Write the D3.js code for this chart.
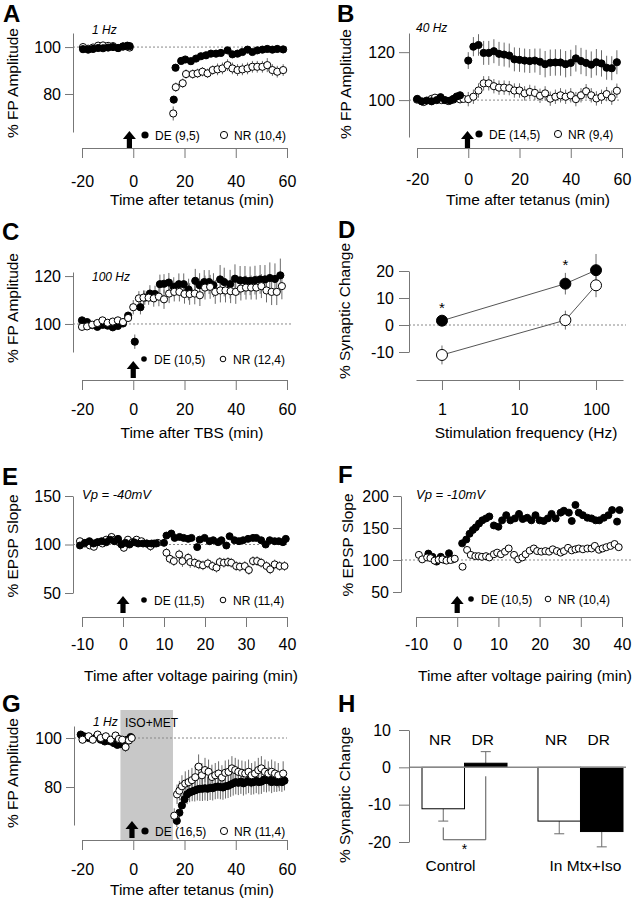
<!DOCTYPE html>
<html><head><meta charset="utf-8">
<script src="https://cdn.jsdelivr.net/npm/d3@7"></script>
<style>body{margin:0;background:#fff} svg{display:block}</style>
</head><body><svg id="c" width="632" height="900"></svg>
<script>
// ---------------- DATA ----------------
// Panel A (1 Hz): [time, value, sem]
const aDE = [[-19.6,99.1,.5],[-17.6,98.9,.5],[-15.7,99.2,.5],[-13.7,99.6,.5],[-11.8,99.5,.5],[-9.8,99.8,.5],[-7.9,100,.5],[-5.9,99.6,.5],[-4,100.3,.5],[-2.3,100.6,.5],[-1.4,100.4,.5],
 [15.8,77.6,1.5],[16.5,91.2,1.2],[18.7,94.1,1.2],[20.3,94.7,1],[22.5,94,1],[24.5,95.1,1],[26.4,96.1,1],[28.4,96.5,1],[30.3,97.2,1],[32.3,97.2,1],[34.2,97.5,1.2],[36.8,98.6,1.2],[38.7,96.9,1.2],[40.7,97.2,1.2],[42.6,97.9,1.2],[44.6,98.9,1.2],[46.5,97.9,1.2],[48.4,98.6,1.2],[50.4,98.9,1.2],[52.3,99.2,1.2],[54.3,98.9,1.2],[56.2,99.2,1.5],[58.5,99,1.5]];
const aNR = [[-19.6,100,.6],[-17.6,99.3,.6],[-15.7,99.8,.6],[-13.7,100.6,.6],[-11.8,100.7,.6],[-9.8,100.5,.6],[-7.9,100.4,.6],[-5.9,99.6,.6],[-4,100.2,.6],[-2.3,100.2,.6],[-1.4,99.8,.6],
 [15.6,71.7,3],[16.6,82.9,2],[19.3,84.6,2],[20.6,88.5,2],[23.2,88.5,2],[25.1,88.8,2],[27,89.5,2],[29,88.8,2],[31,90.2,2],[32.9,90.5,2.5],[34.8,90.9,2.5],[36.8,92.3,2.5],[38.7,90.9,2.5],[40.7,90.2,2.5],[42.6,90.5,2.5],[44.6,90.9,2.5],[46.5,91.6,2.5],[48.4,91.6,2.5],[50.4,91.6,2.5],[52.3,92.3,3],[54.3,90.2,2.5],[56.2,89.5,2.5],[58.5,90.2,2.5]];
// Panel B (40 Hz)
const bDE = [[-19.9,100.5,1],[-18.2,99.5,1],[-16.2,99.8,1],[-14.3,99.5,1],[-12.3,100,1],[-10.8,101.2,1],[-9.1,100,1],[-7.1,99.8,1],[-5.8,100.5,1],[-4.5,101.5,1],[-3.2,102,1],
 [0,116.5,3.5],[2,122.3,4],[4,123,4.5],[6,119.7,5],[8,119.7,5],[10,120.4,5],[12,119.3,5],[14,119,5],[16,118.6,5],[18,117,5],[20,116.8,5],[22,116.5,5],[24,116.3,5],[26,116.5,5],[28,116,5.5],[30,115,5.5],[32,115.6,5.5],[34,115.7,5.5],[36,115.7,5.5],[38,115,5.5],[40,115.5,5.5],[42,117.4,5.5],[44,116.3,5.5],[46,115.5,5.5],[48,114.8,5.5],[50,115.8,5.5],[52,115.3,5.5],[54,113.5,5],[56,113.3,5],[58,115.8,5]];
const bNR = [[-20,100.2,1],[-17.4,99.2,1],[-14.3,100.5,1],[-13,101,1],[-10.4,100,1],[-7.8,99.6,1],[-5.8,100.2,1],[-3.2,100.3,1],[-1.9,100.5,1],
 [0,100.4,3],[2,101.4,3],[4,104,3],[6,107,3],[8,107,3],[10,105.8,3],[12,105.2,3],[14,105.2,3],[16,105,3],[18,104,3],[20,104,3],[22,102.8,3],[24,103.4,3],[26,103,3],[28,101.8,3],[30,102.8,3],[32,100.6,3],[34,101.4,3],[36,102,3],[38,101.4,3],[40,102,3],[42,100.4,3],[44,102,3],[46,103.7,3],[48,102,3],[50,100.7,3],[52,101.4,3],[54,102.5,3],[56,101,3],[58,103.9,3]];
// Panel C (100 Hz, TBS)
const cDE = [[-20,101.5,1],[-18,100.8,1],[-16,99.5,1],[-14,98.8,1],[-12,99.6,1],[-10,99.3,1],[-8,98.6,1],[-6,99.2,1],[-4,100.2,1.2],[-2,103.5,1.5],[0.6,92.6,3],[2.8,107,3],[4.5,111,3],[6.5,112.7,3.5],[8.5,112.5,3.5],[10.4,116.6,4],[12,116.8,4],[13.9,117.3,4],[15.8,115.5,4],[17.8,116.6,4.5],[19.7,116.6,4.5],[21.6,114.4,4.5],[24.2,118,5],[25.9,116.2,5],[27.7,117.5,5],[29.6,117.5,5],[31.3,116.2,5],[33.9,118.6,6],[35.5,117.5,6],[37.8,116.6,6],[39.7,118.9,6],[41.7,118.2,6],[43.6,118.2,6],[45.6,118,6],[47.5,118.3,6],[49.5,118.6,6],[51.4,118.6,6],[53.3,119.2,6.5],[55.3,118.8,6.5],[57.4,120.3,7]];
const cNR = [[-20,98.8,1.5],[-18,99,1.5],[-16,99.7,1.5],[-14,100.4,1.5],[-12,101.5,1.5],[-10,100.5,1.5],[-8,101,1.5],[-6,101.5,1.5],[-4,100.8,1.5],[-2,102.5,1.5],[0,107,3],[2.2,110.7,3],[4,111,3],[6,111,3],[8,110.7,3.5],[10,111.4,4],[12,110.3,4],[14,112.7,4],[16,113.4,4],[18,113.4,4],[20,112.5,4],[22,112.5,4.5],[24,112.7,4.5],[26,112,4.5],[28,115.2,5],[30,115.5,5],[32,113.4,5],[34,114,5],[36,114,5],[38,113.7,5],[40,113.4,5],[42,114.8,5],[44,115.2,5],[46,115.2,5],[48,115.2,5],[50,115.8,5],[52,114,5],[54,113.4,5.5],[56,113.4,5.5],[58,115.8,5.5]];
// Panel D (summary vs frequency)
const dFreq = [1, 40, 100];
const dDE = [1.6, 15.3, 20.3];
const dDEerr = [2, 4, 6];
const dNR = [-11.1, 1.8, 14.7];
const dNRerr = [3.5, 3.5, 4.4];
const dStar = [true, true, false];
// Panel E (Vp = -40 mV)
const eDE = [[-10.5,99,2],[-9.3,101.7,2],[-8.2,103.4,2],[-7.2,101,2],[-6.3,102.3,2],[-5.2,103.4,2],[-4.1,102.3,2],[-3.2,105,2],[-2.1,103.4,2],[-1.2,105.8,2],[-0.4,100,2],[0.6,101.7,2],[1.6,100,2],[2.7,102.3,2],[3.7,101,2],[4.9,101,2],[5.9,101,2],[7,101,2],[8.1,101,2],
 [10,101.7,3],[10.6,109.2,3],[11.8,111.3,3],[12.6,106.8,3],[13.8,107.8,3],[14.8,106.8,3],[15.9,105.8,3],[16.7,106.8,3],[18.1,97.3,3],[18.7,105,3],[19.9,106.8,3],[21.1,103.4,3],[22,104.4,3],[23.2,102.4,3],[24,104.4,3],[25.2,99,3],[26,108.5,3],[27.2,104.4,3],[28.3,103.4,3],[29.3,104.4,3],[30.5,105.8,3],[31.7,106.8,3],[32.5,106.8,3],[33.7,104.4,3],[34.8,100,3],[35.8,104.4,3],[37,103.4,3],[38,103.4,3],[39,102.4,3],[39.7,105.8,3]];
const eNR = [[-10.5,103.4,3],[-9.3,101,3],[-8.1,99,3],[-7.1,97.6,3],[-6.1,102.4,3],[-5,101,3],[-4.1,105,3],[-2.8,107.8,4],[-2,105,3],[-1,102.4,3],[0.2,96.6,4],[1.2,105,3],[2.3,102.4,4],[3.3,105,3],[4.5,103.4,3],[5.7,101,4],[6.7,98.3,5],[7.6,101,4],[8.5,101.7,3],
 [10.6,91.5,5],[11.4,85.3,5],[12.4,82.9,5],[13.7,89.8,5],[14.5,82.9,6],[15.9,86.3,5],[16.4,81.9,6],[17.5,81.2,5],[18.5,79.5,5],[19.5,78.5,5],[20.7,80.5,5],[21.8,77.8,5],[22.8,76.1,5],[23.6,81.9,5],[24.6,81.2,5],[25.6,81.9,5],[26.4,81.2,5],[27.6,77.8,5],[28.5,77.1,5],[29.7,77.8,5],[30.7,73.7,5],[31.7,82.9,5],[32.7,82.9,5],[33.7,81.2,5],[35,77.8,5],[35.9,74.4,5],[37,79.5,5],[38.2,77.8,5],[39.4,77.8,5]];
// Panel F (Vp = -10 mV)
const fDE = [[-7,110,3],[-6,105,3],[-5,97.5,3],[-4,105,3],[-3,100,3],[-2,110.5,3],[-1,101,3],
 [1.2,126,4],[2.2,132,4],[3,141,4],[3.8,147,4],[4.5,151,4],[5.3,157,4],[6.1,162,4],[7,165,4],[7.8,168,4],[8.9,154,4],[10,152,4],[10.9,162,4],[11.9,170,4],[12.9,162,4],[14,165,4],[15,172,4],[15.9,164,4],[17,166,4],[18,162,4],[19,170,4],[20,162,4],[21,161,4],[22,165,4],[22.9,172,4],[23.9,165,4],[25.1,174,4],[25.9,177,4],[27.1,174,4],[27.8,161,4],[28.7,186,5],[29.5,174,4],[30.5,170,4],[31.6,166,4],[32.6,165,4],[33.6,162,4],[34.5,162,4],[35.6,166,4],[36.7,170,4],[37.6,178,5],[38.8,160,4],[39.4,178,5]];
const fNR = [[-9.3,108,3],[-8.5,101,3],[-7.3,104,3],[-6.5,103,3],[-5.5,99,3],[-4.5,100.5,3],[-3.6,101,3],[-2.6,99,3],[-1.6,100,3],[-0.6,102,3],
 [1.3,89.5,4],[2.4,115.7,4],[3.3,108,4],[4.4,106,4],[5.2,106,4],[6,105,4],[7,106,4],[7.8,104,4],[8.9,109,4],[9.7,111.5,4],[10.6,109,4],[11.6,113,4],[12.5,118,4],[13.8,108,4],[14.8,101,4],[15.8,104,4],[16.6,109,4],[17.6,114.6,4],[18.6,118,4],[19.4,114,4],[20.4,113,4],[21.4,114,4],[22.3,113,4],[23.2,116.7,4],[24.2,114,4],[25.1,111.5,4],[25.9,114,4],[26.9,119,4],[27.8,115,4],[28.7,116.7,4],[29.5,118,4],[30.5,116.7,4],[31.6,118,4],[32.6,118,4],[33.4,122,4],[34.4,116,4],[35.3,118,4],[36.2,120,4],[37.2,122,4],[38.2,125,4],[39.2,120,4]];
// Panel G (1 Hz in ISO+MET)
const gDE = [[-20.5,101.4,1],[-19.2,100.7,1],[-17.4,100,1],[-16.1,99.6,1],[-14.4,100.4,1],[-12.7,99.3,1],[-11.1,98.6,1],[-10.1,99,1],[-8.8,98.6,1],[-7.5,97.9,1],[-6.2,97.2,1],[-4.9,97.5,1],[-3.6,98.6,1],[-2.3,99.3,1],[-1,100.4,1],
 [17,66.2,2.5],[18,69.5,3],[19,72.5,3],[20,75,3.5],[21,77,4],[22,77.8,4],[23,78.2,4],[24,78.6,4.5],[25,79,4.5],[26,79.3,5],[27,79.3,5],[28,79.5,5],[29,79.3,5],[30,79.7,5],[31,79.5,5],[32,80,5],[33,80.2,5],[34,80,5],[35,79.8,5],[36,80.3,5],[37,80.5,5],[38,81,5],[39,81.5,5],[40,82,5],[41,81.7,5],[42,82.2,5],[43,81.5,5],[44,82,5],[45,82.5,5],[46,81.8,5],[47,82,5],[48,82.5,5],[49,82,5],[50,82.2,5],[51,83,5],[52,82.8,5],[53,83.2,5],[54,82,4.5],[55,82.5,4.5],[56,82,4],[57,82.3,4],[58,82,4],[59,82.6,4]];
const gNR = [[-19.8,99.3,1.5],[-17.4,100.7,1.5],[-15.8,99.3,1.5],[-13.9,101.4,1.5],[-12.7,100,1.5],[-10.7,100.7,1.5],[-8.8,99.3,1.5],[-6.9,101,1.5],[-5.6,99.6,1.5],[-4.3,99.3,1.5],[-3,96.3,2],[-1.7,99,1.5],[-0.6,100,1.5],
 [16,68.3,3],[17.1,77,4],[18,78.5,4],[19,80.3,4.5],[20.3,81.4,5],[21.6,82,5],[22.9,82.8,5],[24.2,84,5],[25.5,88.3,5],[26.8,84.8,5],[28,86.9,5],[29.4,86.2,5],[30.7,84.1,5],[32,84.8,5],[33.3,85.5,5],[34.6,83.9,5],[35.9,85.8,5],[37.2,86.2,5],[38.5,87.6,5],[39.8,86.9,5],[41,86.2,5],[42.4,85.8,5],[43.7,85.5,5],[45,86.2,5],[46.2,84.8,5],[47.5,85.5,5],[48.8,86.9,5],[50,87.6,5],[51.4,86.2,5],[52.7,85.5,5],[54,86.2,5],[55.3,85.5,5],[56.6,84.8,5],[58.5,85.5,5]];
const gDrug = [-5, 15.5];
// Panel H (bars)
const hGroups = ["Control", "In Mtx+Iso"];
const hConds = ["NR", "DR"];
const hNR = [-11.1, -14.4];
const hNRerr = [3.3, 3.4];
const hDR = [1.1, -17.2];
const hDRerr = [3.1, 4.1];
// Arrow (stimulus) times and legends
const arrowT = {A:-1.5, B:-0.3, C:0, E:0, F:0, G:-0.5};
const legendLabels = {A:["DE (9,5)","NR (10,4)"], B:["DE (14,5)","NR (9,4)"], C:["DE (10,5)","NR (12,4)"], E:["DE (11,5)","NR (11,4)"], F:["DE (10,5)","NR (10,4)"], G:["DE (16,5)","NR (11,4)"]};
const ticksT80 = [-20, 0, 20, 40, 60];
const ticksT40 = [-10, 0, 10, 20, 30, 40];

// ---------------- DRAWING ----------------
const FONT = '"Liberation Sans", Arial, Helvetica, sans-serif';
const svg = d3.select("#c").attr("font-family", FONT);
const AX = "#777", ERR = "#6a6a6a";
const fmt = d => String(d);

function styleAxis(g, fs){
  g.attr("font-family", FONT).attr("font-size", fs);
  g.selectAll(".domain").attr("stroke", AX);
  g.selectAll(".tick line").attr("stroke", AX);
  g.selectAll(".tick text").attr("fill", "#000");
}
function yAxis(scale, x, ticks, tsize, pad){
  const g = svg.append("g").attr("transform", `translate(${x},0)`)
    .call(d3.axisLeft(scale).tickValues(ticks).tickSize(tsize).tickSizeOuter(0).tickPadding(pad).tickFormat(fmt));
  styleAxis(g, 16);
}
function xAxis(scale, y, ticks, pad){
  const g = svg.append("g").attr("transform", `translate(0,${y})`)
    .call(d3.axisBottom(scale).tickValues(ticks).tickSize(10).tickSizeOuter(0).tickPadding(pad).tickFormat(fmt));
  styleAxis(g, 16);
}
function letter(t, x, y){ svg.append("text").attr("x", x).attr("y", y).text(t).attr("font-size", 24).attr("font-weight", "bold"); }
function ylabel(t, x, y){ svg.append("text").attr("transform", `translate(${x},${y}) rotate(-90)`).attr("text-anchor", "middle").attr("dy", "0.35em").attr("font-size", 15.5).text(t); }
function xlabel(t, x, y){ svg.append("text").attr("x", x).attr("y", y).attr("text-anchor", "middle").attr("font-size", 15.5).text(t); }
function note(t, x, y, italic, fs){ svg.append("text").attr("x", x).attr("y", y).attr("font-size", fs || 12).attr("font-style", italic ? "italic" : "normal").text(t); }
function refLine(x1, x2, y){ svg.append("line").attr("x1", x1).attr("x2", x2).attr("y1", y).attr("y2", y).attr("stroke", "#888").attr("stroke-width", 1).attr("stroke-dasharray", "2,2"); }
function arrow(cx, by){
  svg.append("path").attr("d", `M${cx-2.6},${by} L${cx-2.6},${by-9} L${cx-6.5},${by-9} L${cx},${by-17} L${cx+6.5},${by-9} L${cx+2.6},${by-9} L${cx+2.6},${by} Z`).attr("fill", "#000");
}
function legend(labels, x1, x2, y, r){
  svg.append("circle").attr("cx", x1).attr("cy", y).attr("r", r).attr("fill", "#000");
  svg.append("text").attr("x", x1 + 10).attr("y", y + 4.5).attr("font-size", 12).text(labels[0]);
  svg.append("circle").attr("cx", x2).attr("cy", y).attr("r", r).attr("fill", "#fff").attr("stroke", "#000");
  svg.append("text").attr("x", x2 + 10).attr("y", y + 4.5).attr("font-size", 12).text(labels[1]);
}
function errs(x, y, data){
  svg.append("g").selectAll("line").data(data).join("line")
    .attr("x1", d => x(d[0])).attr("x2", d => x(d[0]))
    .attr("y1", d => y(d[1] - d[2])).attr("y2", d => y(d[1] + d[2]))
    .attr("stroke", ERR).attr("stroke-width", 1);
}
function dots(x, y, data, filled, r){
  svg.append("g").selectAll("circle").data(data).join("circle")
    .attr("cx", d => x(d[0])).attr("cy", d => y(d[1])).attr("r", r)
    .attr("fill", filled ? "#000" : "#fff").attr("stroke", "#000").attr("stroke-width", 1);
}
function ts(x, y, de, nr, r, deOnTop){
  errs(x, y, nr); errs(x, y, de);
  if (deOnTop) { dots(x, y, nr, false, r); dots(x, y, de, true, r); }
  else { dots(x, y, de, true, r); dots(x, y, nr, false, r); }
}

// ---- Panel A ----
{
  const x = d3.scaleLinear().domain([-20, 60]).range([82, 287]);
  const y = d3.scaleLinear().domain([63.8, 106]).range([132, 33]);
  refLine(73, 287, y(100));
  ts(x, y, aDE, aNR, 3.6, true);
  yAxis(y, 73, [80, 100], 8, 4);
  xAxis(x, 148, ticksT80, 18);
  arrow(x(arrowT.A), 148);
  legend(legendLabels.A, 145, 224, 135, 3.6);
  letter("A", 3, 22);
  note("1 Hz", 92, 34, true);
  ylabel("% FP Amplitude", 13, 83);
  xlabel("Time after tetanus (min)", 192, 205);
}
// ---- Panel B ----
{
  const x = d3.scaleLinear().domain([-20, 60]).range([417, 622]);
  const y = d3.scaleLinear().domain([84.6, 128]).range([137, 33]);
  refLine(409, 620, y(100));
  ts(x, y, bDE, bNR, 3.6, true);
  yAxis(y, 409, [100, 120], 10, 4);
  xAxis(x, 148, ticksT80, 16);
  arrow(x(arrowT.B), 148);
  legend(legendLabels.B, 479, 558, 134, 3.6);
  letter("B", 337, 22);
  note("40 Hz", 416, 32, true);
  ylabel("% FP Amplitude", 346, 84);
  xlabel("Time after tetanus (min)", 528, 205);
}
// ---- Panel C ----
{
  const x = d3.scaleLinear().domain([-20, 60]).range([82, 287]);
  const y = d3.scaleLinear().domain([88.3, 121.7]).range([352, 272]);
  refLine(73, 292, y(100));
  ts(x, y, cDE, cNR, 3.6, false);
  yAxis(y, 73, [100, 120], 8, 4);
  xAxis(x, 380, ticksT80, 14);
  arrow(x(arrowT.C), 378);
  legend(legendLabels.C, 144, 223, 359, 2.8);
  letter("C", 2, 240);
  note("100 Hz", 92, 281, true);
  ylabel("% FP Amplitude", 13, 308);
  xlabel("Time after TBS (min)", 192, 438);
}
// ---- Panel D ----
{
  const x = d3.scaleLog().domain([0.46, 224]).range([416, 623]);
  const y = d3.scaleLinear().domain([-10, 20]).range([352, 271]);
  refLine(409, 626, y(0));
  const de = dFreq.map((f, i) => [f, dDE[i], dDEerr[i], dStar[i]]);
  const nr = dFreq.map((f, i) => [f, dNR[i], dNRerr[i]]);
  const line = d3.line().x(d => x(d[0])).y(d => y(d[1]));
  svg.append("path").attr("d", line(de)).attr("fill", "none").attr("stroke", "#555").attr("stroke-width", 1);
  svg.append("path").attr("d", line(nr)).attr("fill", "none").attr("stroke", "#555").attr("stroke-width", 1);
  errs(x, y, de); errs(x, y, nr);
  dots(x, y, nr, false, 5.5); dots(x, y, de, true, 5.5);
  svg.append("g").selectAll("text").data(de.filter(d => d[3])).join("text")
    .attr("x", d => x(d[0])).attr("y", d => y(d[1] + d[2] + 3.5) + 7).attr("text-anchor", "middle").attr("font-size", 15).text("*");
  yAxis(y, 409, [-10, 0, 10, 20], 10, 5);
  xAxis(x, 380, [1, 10, 100], 14);
  letter("D", 338, 238);
  ylabel("% Synaptic Change", 345, 311);
  xlabel("Stimulation frequency (Hz)", 526, 438);
}
// ---- Panel E ----
{
  const x = d3.scaleLinear().domain([-10, 40]).range([82, 287]);
  const y = d3.scaleLinear().domain([50, 150]).range([593, 496]);
  refLine(73, 287, y(100));
  ts(x, y, eDE, eNR, 3.5, true);
  yAxis(y, 73, [50, 100, 150], 8, 4);
  xAxis(x, 617, ticksT40, 12);
  arrow(x(arrowT.E), 613);
  legend(legendLabels.E, 144, 223, 600, 2.8);
  letter("E", 2, 485);
  note("Vp = -40mV", 82, 499, true, 13);
  ylabel("% EPSP Slope", 13, 546);
  xlabel("Time after voltage pairing (min)", 191, 681);
}
// ---- Panel F ----
{
  const x = d3.scaleLinear().domain([-10, 40]).range([416, 622]);
  const y = d3.scaleLinear().domain([50, 200]).range([592, 496]);
  refLine(401, 631, y(100));
  ts(x, y, fDE, fNR, 3.5, false);
  yAxis(y, 401, [50, 100, 150, 200], 8, 4);
  xAxis(x, 617, ticksT40, 12);
  arrow(x(arrowT.F), 613);
  legend(legendLabels.F, 471, 548, 599, 2.8);
  letter("F", 338, 483);
  note("Vp = -10mV", 416, 499, true, 13);
  ylabel("% EPSP Slope", 348, 545);
  xlabel("Time after voltage pairing (min)", 525, 681);
}
// ---- Panel G ----
{
  const x = d3.scaleLinear().domain([-20, 60]).range([82, 287]);
  const y = d3.scaleLinear().domain([64.5, 104.9]).range([825, 726]);
  svg.append("rect").attr("x", x(gDrug[0])).attr("width", x(gDrug[1]) - x(gDrug[0])).attr("y", 710).attr("height", 130).attr("fill", "#c8c8c8");
  refLine(74, 287, y(100));
  ts(x, y, gDE, gNR, 3.6, false);
  yAxis(y, 74, [80, 100], 8, 4);
  xAxis(x, 840, ticksT80, 14);
  arrow(x(arrowT.G), 838);
  legend(legendLabels.G, 145, 224, 831, 3.6);
  letter("G", 2, 712);
  note("1 Hz", 93, 726, true);
  note("ISO+MET", 125, 727, false, 12);
  ylabel("% FP Amplitude", 13, 773);
  xlabel("Time after tetanus (min)", 192, 895);
}
// ---- Panel H ----
{
  const y = d3.scaleLinear().domain([-20, 10]).range([842, 730]);
  const gx = d3.scaleBand().domain(hGroups).range([422, 623]).paddingInner(0.267).paddingOuter(0);
  const cx = d3.scaleBand().domain(hConds).range([0, gx.bandwidth()]).padding(0);
  const bars = [];
  hGroups.forEach((g, i) => {
    bars.push({g, c: "NR", v: hNR[i], e: hNRerr[i]});
    bars.push({g, c: "DR", v: hDR[i], e: hDRerr[i]});
  });
  const bx = d => gx(d.g) + cx(d.c);
  const bc = d => bx(d) + cx.bandwidth() / 2;
  // error bars (away from zero)
  svg.append("g").selectAll("g").data(bars).join("g").each(function(d){
    const s = d.v >= 0 ? 1 : -1;
    const g = d3.select(this);
    g.append("line").attr("x1", bc(d)).attr("x2", bc(d)).attr("y1", y(d.v)).attr("y2", y(d.v + s * d.e)).attr("stroke", ERR);
    g.append("line").attr("x1", bc(d) - 5).attr("x2", bc(d) + 5).attr("y1", y(d.v + s * d.e)).attr("y2", y(d.v + s * d.e)).attr("stroke", ERR);
  });
  svg.append("g").selectAll("rect").data(bars).join("rect")
    .attr("x", bx).attr("width", cx.bandwidth())
    .attr("y", d => y(Math.max(0, d.v))).attr("height", d => Math.abs(y(d.v) - y(0)))
    .attr("fill", d => d.c === "DR" ? "#000" : "#fff").attr("stroke", "#000").attr("stroke-width", 1);
  svg.append("line").attr("x1", 409).attr("x2", 626).attr("y1", y(0)).attr("y2", y(0)).attr("stroke", "#888").attr("stroke-width", 1.5);
  // condition labels
  svg.append("g").selectAll("text").data(bars).join("text")
    .attr("x", d => bc(d) - 3).attr("y", 745).attr("text-anchor", "middle").attr("font-size", 15.5).text(d => d.c);
  // group labels
  svg.append("g").selectAll("text").data(hGroups).join("text")
    .attr("x", (d, i) => gx(d) + gx.bandwidth() / 2 + (i === 0 ? -14 : 5)).attr("y", 871).attr("text-anchor", "middle").attr("font-size", 15.5).text(d => d);
  // significance bracket for Control
  const nrC = bc(bars[0]), drC = bc(bars[1]);
  svg.append("path").attr("d", `M${nrC},${y(-16.1)} L${nrC},${y(-19.4)} L${drC},${y(-19.4)} L${drC},${y(-2.4)}`).attr("fill", "none").attr("stroke", "#555");
  svg.append("text").attr("x", (nrC + drC) / 2).attr("y", y(-19.4) + 14).attr("text-anchor", "middle").attr("font-size", 14).text("*");
  yAxis(y, 409, [-20, -10, 0, 10], 10, 8);
  letter("H", 338, 712);
  ylabel("% Synaptic Change", 345, 795);
}
</script></body></html>
